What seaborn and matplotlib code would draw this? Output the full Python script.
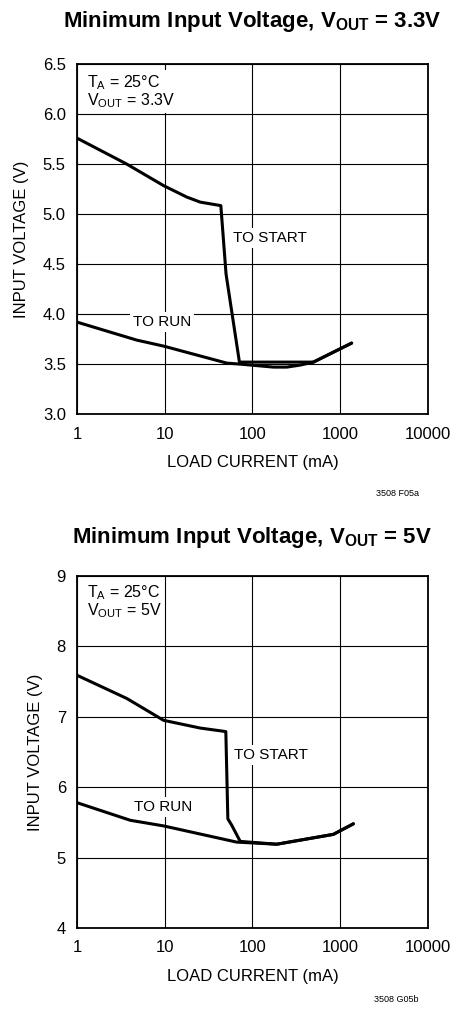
import numpy as np
import matplotlib
matplotlib.use('Agg')
import matplotlib.pyplot as plt
import seaborn as sns

# Dados - VOUT = 3.3V
start33_x = [1, 3.7, 9.7, 17.9, 25.4, 43.6, 50, 71, 495, 1350]
start33_y = [5.76, 5.50, 5.285, 5.17, 5.12, 5.085, 4.40, 3.52, 3.52, 3.71]
run33_x = [1, 4.8, 9.7, 51, 72, 173, 246, 349, 495, 1350]
run33_y = [3.92, 3.74, 3.68, 3.51, 3.50, 3.47, 3.47, 3.49, 3.52, 3.71]

# Dados - VOUT = 5V
start5_x = [1, 3.7, 9.7, 25.4, 49.7, 52.4, 58, 72.5, 189, 836, 1413]
start5_y = [7.59, 7.26, 6.95, 6.84, 6.79, 5.55, 5.46, 5.23, 5.19, 5.33, 5.48]
run5_x = [1, 4.05, 9.7, 66, 189, 836, 1413]
run5_y = [5.78, 5.53, 5.45, 5.22, 5.19, 5.33, 5.48]

x_ticks = [1, 10, 100, 1000, 10000]
y_ticks33 = [3.0, 3.5, 4.0, 4.5, 5.0, 5.5, 6.0, 6.5]
y_ticks5 = [4, 5, 6, 7, 8, 9]

sns.set_style('white')
plt.rcParams['font.family'] = ['Liberation Sans', 'DejaVu Sans']
plt.rcParams['mathtext.default'] = 'regular'
plt.rcParams['text.color'] = 'black'
plt.rcParams['axes.labelcolor'] = 'black'
plt.rcParams['xtick.color'] = 'black'
plt.rcParams['ytick.color'] = 'black'

fig = plt.figure(figsize=(4.54, 10.10), dpi=100)
ax1 = fig.add_axes([0.1696, 0.590, 0.773, 0.3465])
ax2 = fig.add_axes([0.1696, 0.0812, 0.773, 0.3485])


def style_axes(ax, yticks, fmt):
    ax.set_xscale('log')
    ax.set_xlim(1, 10000)
    ax.set_ylim(yticks[0], yticks[-1])
    ax.set_xticks(x_ticks)
    ax.set_xticklabels([str(t) for t in x_ticks])
    ax.set_yticks(yticks)
    ax.set_yticklabels([fmt.format(t) for t in yticks])
    ax.minorticks_off()
    ax.grid(True, color='black', linewidth=0.8, zorder=0)
    for s in ax.spines.values():
        s.set_color('black')
        s.set_linewidth(1.3)
    ax.tick_params(axis='both', length=0, labelsize=12, colors='black')
    ax.tick_params(axis='x', pad=9)
    ax.tick_params(axis='y', pad=8)
    ax.set_xlabel('LOAD CURRENT (mA)', fontsize=12, labelpad=10)
    ax.set_ylabel('INPUT VOLTAGE (V)', fontsize=12, labelpad=10)
    ax.set_axisbelow(True)


# Gráfico 1
sns.lineplot(x=start33_x, y=start33_y, ax=ax1, color='black', linewidth=2.2, sort=False, estimator=None)
sns.lineplot(x=run33_x, y=run33_y, ax=ax1, color='black', linewidth=2.2, sort=False, estimator=None)
style_axes(ax1, y_ticks33, '{:.1f}')

box = dict(facecolor='white', edgecolor='none', pad=2)
ax1.text(0.028, 0.975, 'T$_A$ = 25°C\nV$_{OUT}$ = 3.3V', transform=ax1.transAxes,
         ha='left', va='top', fontsize=11.5, linespacing=1.0, bbox=box, zorder=3)
ax1.text(0.55, 0.503, 'TO START', transform=ax1.transAxes, ha='center', va='center',
         fontsize=11, bbox=box, zorder=3)
ax1.text(0.242, 0.263, 'TO RUN', transform=ax1.transAxes, ha='center', va='center',
         fontsize=11, bbox=box, zorder=3)

# Gráfico 2
sns.lineplot(x=start5_x, y=start5_y, ax=ax2, color='black', linewidth=2.2, sort=False, estimator=None)
sns.lineplot(x=run5_x, y=run5_y, ax=ax2, color='black', linewidth=2.2, sort=False, estimator=None)
style_axes(ax2, y_ticks5, '{:d}')

ax2.text(0.028, 0.98, 'T$_A$ = 25°C\nV$_{OUT}$ = 5V', transform=ax2.transAxes,
         ha='left', va='top', fontsize=11.5, linespacing=1.0, bbox=box, zorder=3)
ax2.text(0.553, 0.491, 'TO START', transform=ax2.transAxes, ha='center', va='center',
         fontsize=11, bbox=box, zorder=3)
ax2.text(0.245, 0.344, 'TO RUN', transform=ax2.transAxes, ha='center', va='center',
         fontsize=11, bbox=box, zorder=3)

# Títulos e códigos
fig.text(252 / 454, 1 - 22 / 1010, 'Minimum Input Voltage, V$_{OUT}$ = 3.3V', ha='center', va='center',
         fontsize=16, fontweight='bold')
fig.text(252 / 454, 1 - 537 / 1010, 'Minimum Input Voltage, V$_{OUT}$ = 5V', ha='center', va='center',
         fontsize=16, fontweight='bold')
fig.text(419 / 454, 1 - 493 / 1010, '3508 F05a', ha='right', va='center', fontsize=6.5)
fig.text(419 / 454, 1 - 1000 / 1010, '3508 G05b', ha='right', va='center', fontsize=6.5)

fig.savefig('out.png', dpi=100, facecolor='white')
